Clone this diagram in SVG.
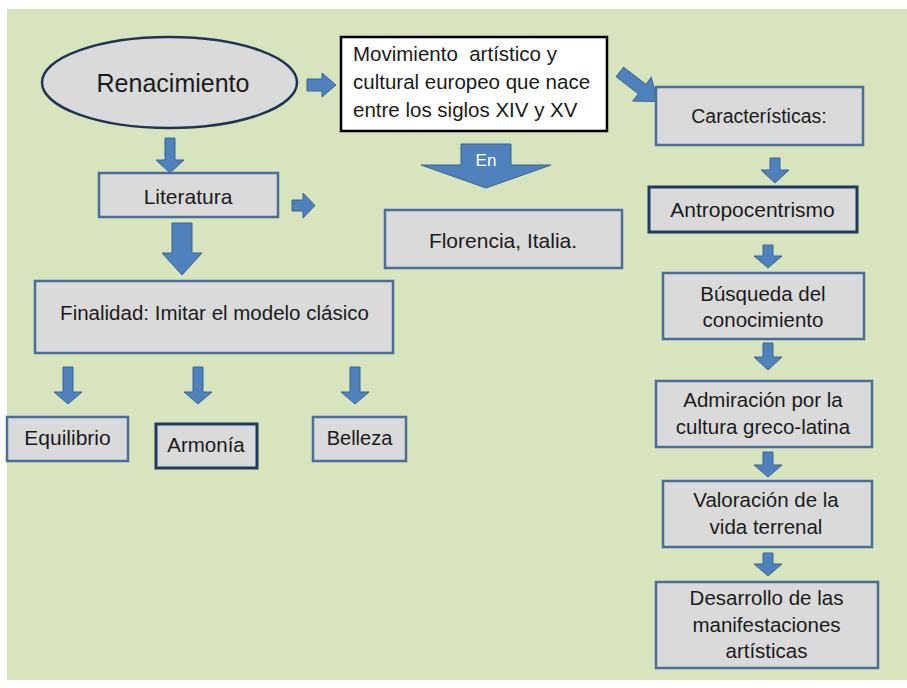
<svg xmlns="http://www.w3.org/2000/svg" width="907" height="688" viewBox="0 0 907 688">
<style>
text{font-family:"Liberation Sans",Arial,sans-serif;font-size:20.5px;fill:#1a1a1a;text-anchor:middle}
.box{fill:#dadada;stroke:#4a6d99;stroke-width:2.5}
.dark{fill:#dadada;stroke:#1f3a60;stroke-width:3}
.arr{fill:#4f81bd;stroke:#3b6493;stroke-width:1}
.lft{text-anchor:start}
</style>
<rect x="0" y="0" width="907" height="688" fill="#ffffff"/>
<rect x="7" y="9" width="900" height="671" fill="#d7e4bd"/>

<g id="connectors">
<path class="arr" d="M307,79 H322 V73 L336,85 L322,97 V91 H307 Z"/>
<path class="arr" d="M165,138 H175 V160 H184 L170,173 L156,160 H165 Z"/>
<path class="arr" d="M292,200 H303 V193 L315,205.5 L303,218 V211 H292 Z"/>
<path class="arr" d="M172,223 H192 V253 H202 L182,275 L162,253 H172 Z"/>
<path class="arr" d="M63,367 H73 V392 H82 L68,404 L54,392 H63 Z"/>
<path class="arr" d="M193,367 H203 V392 H212 L198,404 L184,392 H193 Z"/>
<path class="arr" d="M350,367 H360 V392 H369 L355,404 L341,392 H350 Z"/>
<path class="arr" d="M461,144 H511 V165 H551 L486,188 L421,165 H461 Z"/>
<text x="486" y="166" style="fill:#ffffff;font-size:17px">En</text>
<path class="arr" transform="translate(620,72) rotate(38)" d="M0,-6 H28 V-15 L48,0 L28,15 V6 H0 Z"/>
<path class="arr" d="M770,158 H780 V170 H789 L775,183 L761,170 H770 Z"/>
<path class="arr" d="M763,245 H773 V256 H782 L768,268 L754,256 H763 Z"/>
<path class="arr" d="M763,343 H773 V357 H782 L768,370 L754,357 H763 Z"/>
<path class="arr" d="M763,452 H773 V465 H782 L768,477 L754,465 H763 Z"/>
<path class="arr" d="M763,553 H773 V564 H782 L768,576 L754,564 H763 Z"/>
</g>

<g id="renacimiento">
<ellipse cx="169.5" cy="82.5" rx="127.5" ry="45.5" fill="#dadada" stroke="#1f3354" stroke-width="2.5"/>
<text x="173" y="92" style="font-size:25px">Renacimiento</text>
</g>

<g id="movimiento">
<rect x="341" y="37" width="266" height="94" fill="#ffffff" stroke="#000000" stroke-width="2.5"/>
<text class="lft" x="353" y="61" xml:space="preserve">Movimiento  artístico y</text>
<text class="lft" x="353" y="89">cultural europeo que nace</text>
<text class="lft" x="353" y="117">entre los siglos XIV y XV</text>
</g>

<g id="literatura">
<rect class="box" x="99" y="173" width="179" height="44"/>
<text x="188" y="204" style="font-size:21px">Literatura</text>
</g>

<g id="finalidad">
<rect class="box" x="35" y="281" width="358" height="72"/>
<text x="214.5" y="320">Finalidad: Imitar el modelo clásico</text>
</g>

<g id="equilibrio">
<rect class="box" x="7" y="417" width="121" height="44"/>
<text x="67.5" y="445" style="font-size:21px">Equilibrio</text>
</g>

<g id="armonia">
<rect class="dark" x="156" y="424" width="101" height="44"/>
<text x="206" y="452">Armonía</text>
</g>

<g id="belleza">
<rect class="box" x="313" y="417" width="93" height="44"/>
<text x="359.5" y="445" style="font-size:20px">Belleza</text>
</g>

<g id="florencia">
<rect class="box" x="385" y="210" width="237" height="58"/>
<text x="503" y="248" style="font-size:21px">Florencia, Italia.</text>
</g>

<g id="caracteristicas">
<rect class="box" x="656" y="87" width="207" height="58"/>
<text x="759" y="123" style="font-size:19.5px">Características:</text>
</g>

<g id="antropocentrismo">
<rect class="dark" x="649" y="187" width="208" height="45"/>
<text x="752.5" y="217" style="font-size:21px">Antropocentrismo</text>
</g>

<g id="busqueda">
<rect class="box" x="663" y="273" width="201" height="66"/>
<text x="763" y="301">Búsqueda del</text>
<text x="763" y="327">conocimiento</text>
</g>

<g id="admiracion">
<rect class="box" x="656" y="381" width="216" height="66"/>
<text x="763" y="407">Admiración por la</text>
<text x="763" y="434">cultura greco-latina</text>
</g>

<g id="valoracion">
<rect class="box" x="663" y="481" width="209" height="66"/>
<text x="766" y="507">Valoración de la</text>
<text x="766" y="534">vida terrenal</text>
</g>

<g id="desarrollo">
<rect class="box" x="656" y="582" width="222" height="86"/>
<text x="766.5" y="605">Desarrollo de las</text>
<text x="766.5" y="632">manifestaciones</text>
<text x="766.5" y="658">artísticas</text>
</g>
</svg>
